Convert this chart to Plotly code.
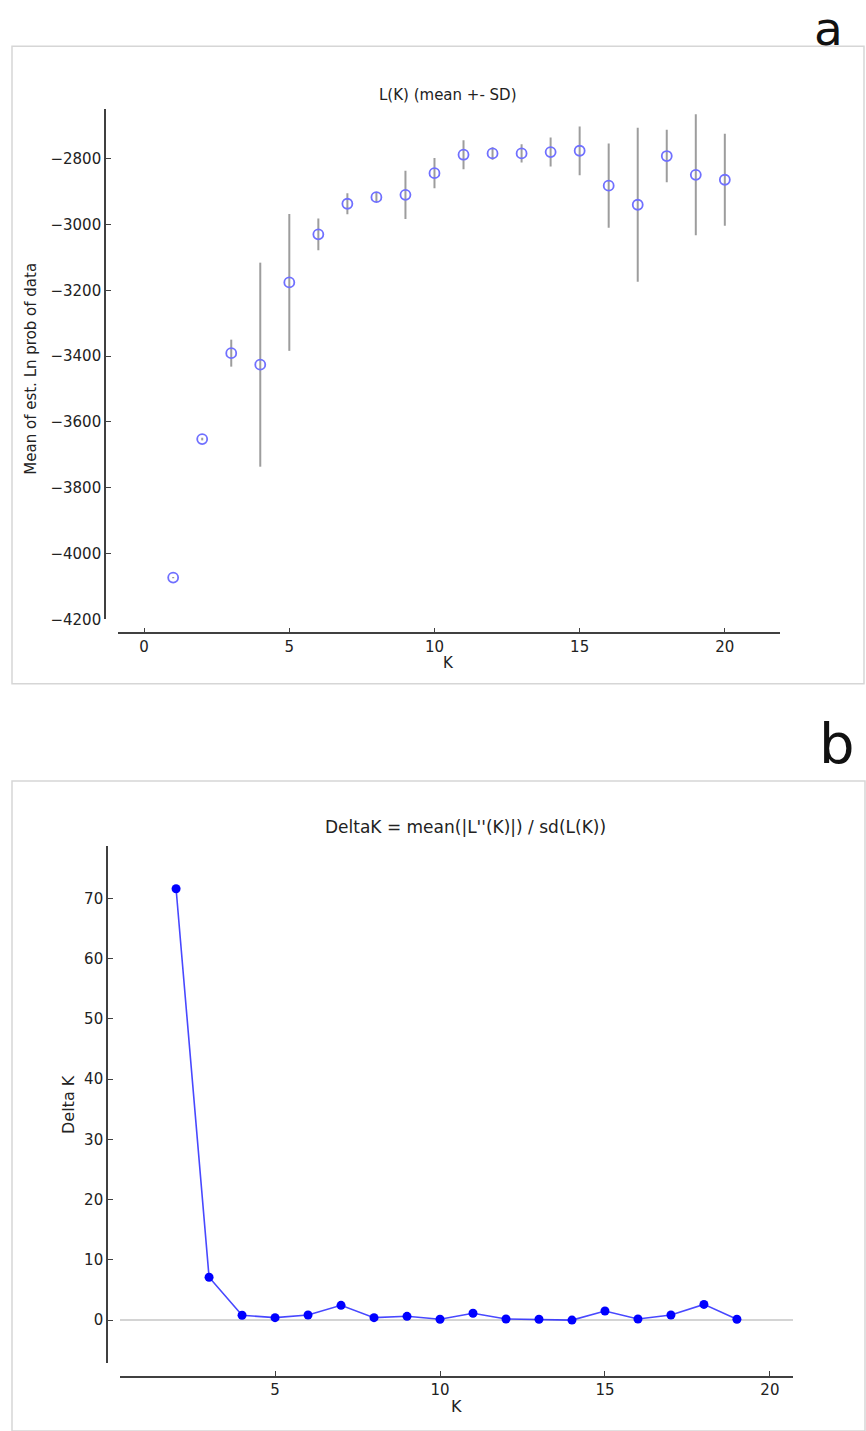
import plotly.graph_objects as go

W, H = 866, 1431

# ---- data: panel a (L(K) mean +- SD) ----
k_a = list(range(1, 21))
mean_lnp = [-4073, -3652, -3391, -3426, -3176, -3030, -2937, -2917, -2910, -2844,
            -2788, -2784, -2784, -2780, -2776, -2882, -2940, -2792, -2849, -2864]
sd_lnp = [2, 4, 41, 310, 208, 48, 32, 15, 73, 46,
          44, 19, 28, 44, 74, 128, 234, 80, 184, 140]
xticks_a = [0, 5, 10, 15, 20]
yticks_a = [-4200, -4000, -3800, -3600, -3400, -3200, -3000, -2800]

# ---- data: panel b (Delta K) ----
k_b = list(range(2, 20))
delta_k = [71.6, 7.13, 0.82, 0.43, 0.87, 2.47, 0.43, 0.65, 0.16, 1.15,
           0.21, 0.16, 0.02, 1.53, 0.21, 0.87, 2.63, 0.16]
xticks_b = [5, 10, 15, 20]
yticks_b = [0, 10, 20, 30, 40, 50, 60, 70]


def px(x):
    return x / W


def py(y):
    return 1 - y / H


FONT = "DejaVu Sans"
AX = "#404040"

fig = go.Figure()

fig.add_trace(go.Scatter(
    x=k_a, y=mean_lnp, mode="markers",
    error_y=dict(type="data", array=sd_lnp, visible=True,
                 color="rgba(140,140,140,0.85)", thickness=2, width=0),
    marker=dict(symbol="circle-open", size=10, color="#7070ff",
                line=dict(width=1.8, color="#7070ff")),
    xaxis="x", yaxis="y", showlegend=False,
))

fig.add_trace(go.Scatter(
    x=k_b, y=delta_k, mode="lines+markers",
    line=dict(color="rgba(40,40,255,0.85)", width=1.6),
    marker=dict(size=9, color="#0000ff"),
    xaxis="x2", yaxis="y2", showlegend=False,
))

common = dict(showgrid=False, showline=True, linecolor=AX, linewidth=1.6,
              ticks="inside", ticklen=5, tickwidth=1, tickcolor=AX)
font_a = dict(family=FONT, size=15, color="#222")
font_b = dict(family=FONT, size=15, color="#222")

fig.update_layout(
    width=W, height=H,
    margin=dict(l=0, r=0, t=0, b=0),
    paper_bgcolor="white", plot_bgcolor="white",
    xaxis=dict(domain=[px(118), px(780)], range=[-0.9, 21.9],
               anchor="free", position=py(637.5), tickfont=font_a,
               tickvals=xticks_a, zeroline=False, **common),
    yaxis=dict(domain=[py(623.3), py(110)], range=[-4200, -2650],
               anchor="free", position=px(105), tickfont=font_a,
               tickvals=yticks_a, zeroline=False, **common),
    xaxis2=dict(domain=[px(120), px(793)], range=[0.3, 20.7],
                anchor="free", position=py(1385.3), tickfont=font_b,
                tickvals=xticks_b, zeroline=False, **common),
    yaxis2=dict(domain=[py(1372), py(851)], range=[-7.16, 78.76],
                anchor="free", position=px(107), tickfont=font_b,
                tickvals=yticks_b, zeroline=True, zerolinecolor="#d4d4d4",
                zerolinewidth=2, **common),
)

shapes = [
    dict(type="rect", xref="paper", yref="paper",
         x0=px(12), x1=px(864), y0=py(688), y1=py(46.5),
         line=dict(color="#d6d6d6", width=1.5), layer="below"),
    dict(type="rect", xref="paper", yref="paper",
         x0=px(12), x1=px(865), y0=py(1440), y1=py(786),
         line=dict(color="#d6d6d6", width=1.5), layer="below"),
]
fig.update_layout(shapes=shapes)

ann = [
    dict(text="a", x=px(828.5), y=py(0.5), yanchor="top", borderpad=0,
         font=dict(family=FONT, size=47, color="#111")),
    dict(text="b", x=px(836.5), y=py(748), font=dict(family=FONT, size=56, color="#111")),
    dict(text="L(K) (mean +- SD)", x=px(448), y=py(96),
         font=dict(family=FONT, size=15, color="#222")),
    dict(text="Mean of est. Ln prob of data", x=px(31), y=py(371), textangle=-90,
         font=dict(family=FONT, size=15, color="#222")),
    dict(text="K", x=px(448), y=py(667), font=dict(family=FONT, size=15, color="#222")),
    dict(text="DeltaK = mean(|L''(K)|) / sd(L(K))", x=px(465), y=py(832),
         font=dict(family=FONT, size=17, color="#222")),
    dict(text="Delta K", x=px(68), y=py(1112), textangle=-90,
         font=dict(family=FONT, size=16, color="#222")),
    dict(text="K", x=px(456), y=py(1415), font=dict(family=FONT, size=16, color="#222")),
]
for a in ann:
    a.setdefault("yanchor", "middle")
    a.update(xref="paper", yref="paper", showarrow=False, xanchor="center")
fig.update_layout(annotations=ann)

fig.write_html(
    "out.html",
    config={"displayModeBar": False},
    post_script="document.body.style.margin='0px';document.body.style.overflow='hidden';",
)
